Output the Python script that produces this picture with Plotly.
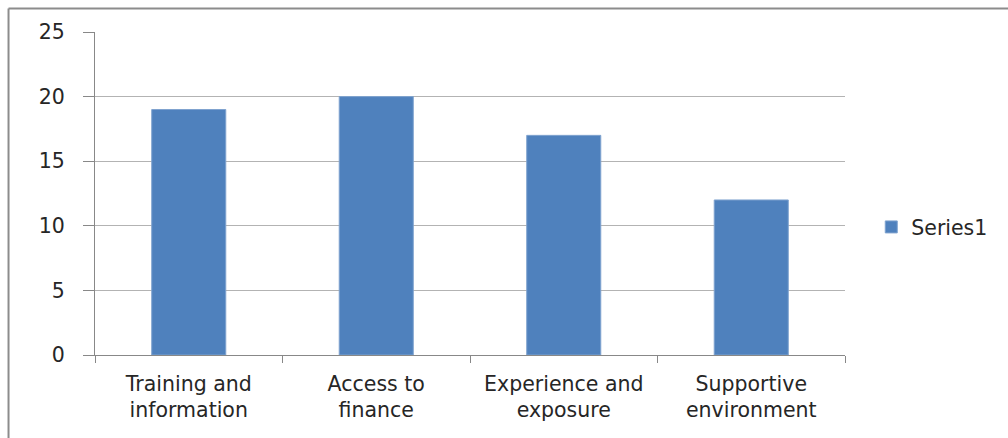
import plotly.graph_objects as go

categories = ["Training and<br>information", "Access to<br>finance",
              "Experience and<br>exposure", "Supportive<br>environment"]
series1 = [19, 20, 17, 12]
y_ticks = [0, 5, 10, 15, 20, 25]

BAR = "#4F81BD"
AXIS = "#888888"
GRID = "#B3B3B3"
FONT = dict(family="'DejaVu Sans', sans-serif", size=20.5, color="#262626")

fig = go.Figure()
fig.add_trace(go.Bar(
    x=categories, y=series1, name="Series1",
    marker=dict(color=BAR, line=dict(color="#7FA3CF", width=1)),
    width=0.395,
))

fig.update_layout(
    width=1008, height=438,
    margin=dict(l=95, r=163, t=32, b=83),
    paper_bgcolor="white", plot_bgcolor="white",
    font=FONT,
    showlegend=True,
    legend=dict(x=1.035, y=0.396, xanchor="left", yanchor="middle",
                font=FONT, bgcolor="rgba(0,0,0,0)"),
    xaxis=dict(
        showgrid=False, showline=True, linecolor=AXIS, linewidth=1,
        ticks="outside", tickson="boundaries", ticklen=7, tickcolor=AXIS,
        tickfont=FONT, range=[-0.5, 3.5], ticklabelstandoff=10,
    ),
    yaxis=dict(
        range=[0, 25], tickvals=y_ticks, showgrid=True, gridcolor=GRID,
        gridwidth=1, showline=True, linecolor=AXIS, linewidth=1,
        ticks="outside", ticklen=11, tickcolor=AXIS, tickfont=FONT,
        ticklabelstandoff=14, zeroline=False,
    ),
    shapes=[
        dict(type="line", xref="paper", yref="paper",
             x0=-0.1153, x1=-0.1153, y0=1.0728, y1=-0.6,
             line=dict(color="#8C8C8C", width=2)),
        dict(type="line", xref="paper", yref="paper",
             x0=-0.1153, x1=1.4, y0=1.0728, y1=1.0728,
             line=dict(color="#8C8C8C", width=2)),
    ],
)

fig.write_html("out.html")
